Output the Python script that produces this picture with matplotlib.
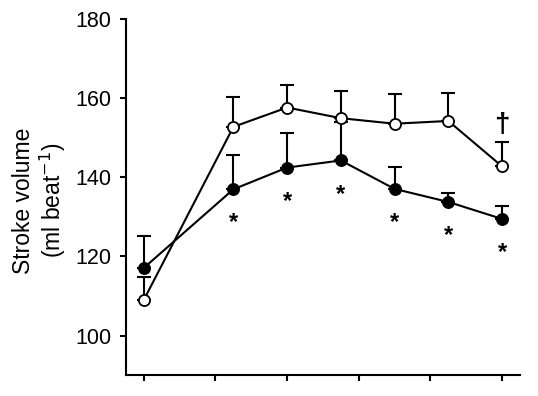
import matplotlib
matplotlib.use('Agg')
import matplotlib.pyplot as plt
import numpy as np

plt.rcParams['font.family'] = ['Liberation Sans', 'DejaVu Sans']

# time points (no tick labels shown on x axis)
time_points = [0, 25, 40, 55, 70, 85, 100]
x_ticks = [0, 20, 40, 60, 80, 100]

# open circles
open_mean = [109.0, 152.8, 157.7, 155.0, 153.6, 154.3, 142.8]
open_upper = [114.9, 160.3, 163.5, 161.9, 161.0, 161.5, 148.9]

# filled circles
filled_mean = [117.1, 137.0, 142.5, 144.3, 137.1, 133.8, 129.5]
filled_upper = [125.2, 145.6, 151.3, 154.0, 142.7, 136.0, 132.9]

# significance marks
star_points = [25, 40, 55, 70, 85, 100]
dagger_points = [100]

open_err = np.array(open_upper) - np.array(open_mean)
filled_err = np.array(filled_upper) - np.array(filled_mean)

fig = plt.figure(figsize=(5.38, 3.96), dpi=100)
ax = fig.add_axes([0.234, 0.053, 0.7325, 0.898])

# error bars (upper only)
ax.errorbar(time_points, filled_mean, yerr=[np.zeros(len(filled_err)), filled_err],
            fmt='none', ecolor='black', elinewidth=1.5, capsize=5, capthick=1.5, zorder=2)
ax.errorbar(time_points, open_mean, yerr=[np.zeros(len(open_err)), open_err],
            fmt='none', ecolor='black', elinewidth=1.5, capsize=5, capthick=1.5, zorder=2)

ax.plot(time_points, filled_mean, color='black', lw=1.5, marker='o', ms=8,
        mfc='black', mec='black', mew=1.3, zorder=3)
ax.plot(time_points, open_mean, color='black', lw=1.5, marker='o', ms=8,
        mfc='white', mec='black', mew=1.3, zorder=4)

for i, t in enumerate(time_points):
    if t in star_points:
        ax.text(t, filled_mean[i] - 8.5, '*', ha='center', va='center',
                fontsize=17, fontweight='bold')
    if t in dagger_points:
        ax.text(t, open_upper[i] + 4.5, '\u2020', ha='center', va='center',
                fontsize=20, fontweight='bold')

ax.set_xlim(-5, 105)
ax.set_ylim(90, 180)
ax.set_xticks(x_ticks)
ax.set_xticklabels([])
ax.set_yticks([100, 120, 140, 160, 180])
ax.tick_params(axis='both', direction='out', width=1.5, labelsize=15.5)
ax.tick_params(axis='y', length=4.5, pad=6)
ax.tick_params(axis='x', length=4)

ax.spines['top'].set_visible(False)
ax.spines['right'].set_visible(False)
ax.spines['left'].set_linewidth(1.5)
ax.spines['bottom'].set_linewidth(1.5)
ax.spines['left'].set_bounds(90, 180)

ax.set_ylabel('Stroke volume\n(ml beat$^{-1}$)', fontsize=16.5, linespacing=1.1)
ax.yaxis.set_label_coords(-0.148, 0.49)

fig.savefig('out.png', dpi=100)
